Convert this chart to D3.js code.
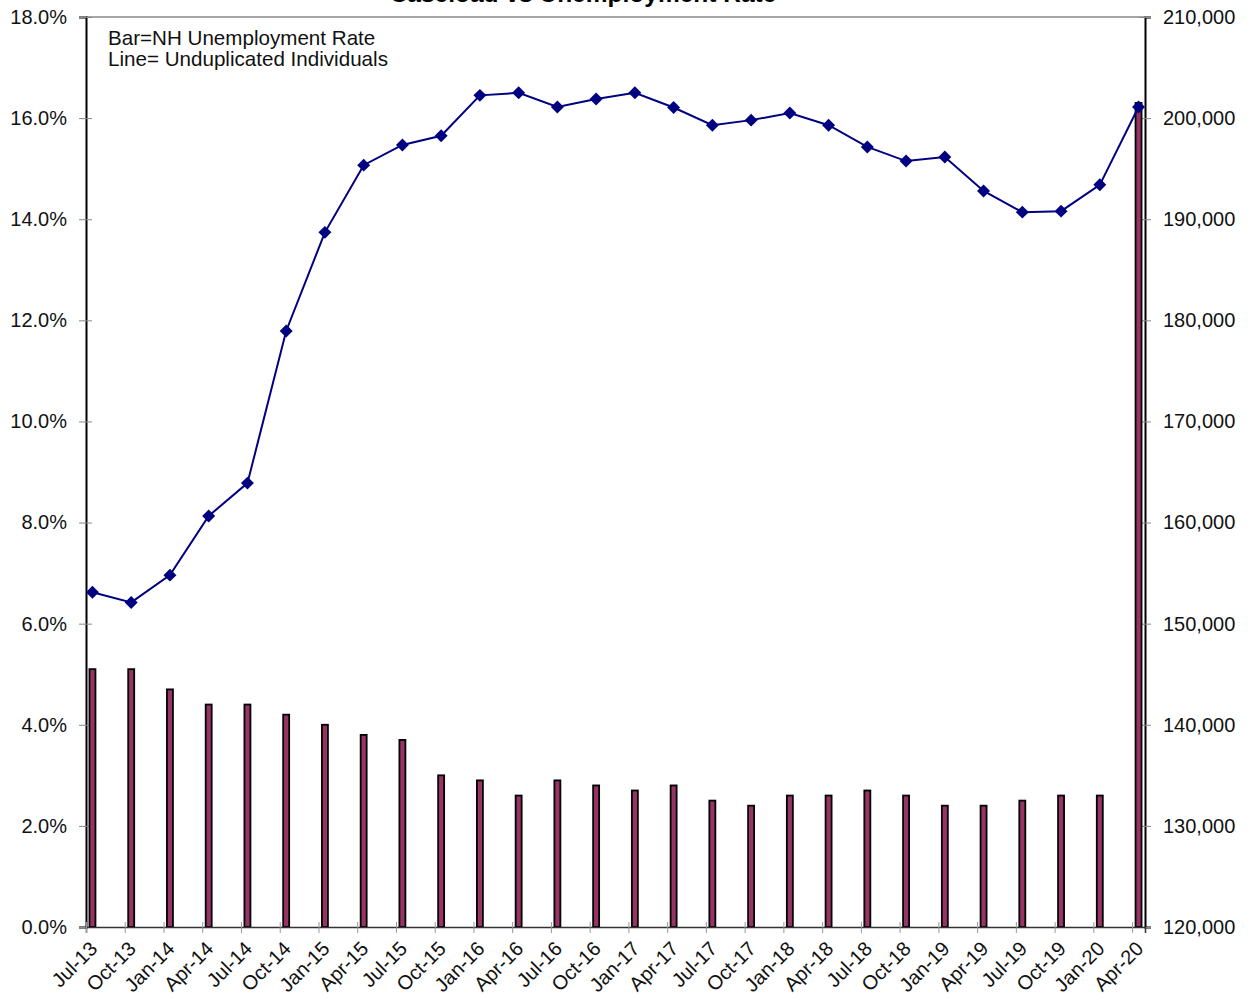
<!DOCTYPE html>
<html><head><meta charset="utf-8">
<script src="https://cdn.jsdelivr.net/npm/d3@7"></script>
<style>body{margin:0;background:#fff;} svg{display:block;font-family:"Liberation Sans",Arial,sans-serif;}</style>
</head><body>
<script>
const categories = ["Jul-13","Oct-13","Jan-14","Apr-14","Jul-14","Oct-14","Jan-15","Apr-15","Jul-15","Oct-15","Jan-16","Apr-16","Jul-16","Oct-16","Jan-17","Apr-17","Jul-17","Oct-17","Jan-18","Apr-18","Jul-18","Oct-18","Jan-19","Apr-19","Jul-19","Oct-19","Jan-20","Apr-20"];
const unemploymentRate = [5.1,5.1,4.7,4.4,4.4,4.2,4.0,3.8,3.7,3.0,2.9,2.6,2.9,2.8,2.7,2.8,2.5,2.4,2.6,2.6,2.7,2.6,2.4,2.4,2.5,2.6,2.6,16.3];
const individuals = [153100,152100,154800,160650,163900,178950,188700,195350,197350,198250,202250,202500,201100,201900,202500,201050,199300,199800,200500,199300,197150,195750,196150,192800,190700,190800,193400,201100];
const leftTicks = [0,2,4,6,8,10,12,14,16,18];
const rightTicks = [120000,130000,140000,150000,160000,170000,180000,190000,200000,210000];
const titleText = "Caseload vs Unemployment Rate";
const noteLines = ["Bar=NH Unemployment Rate","Line= Unduplicated Individuals"];

const W=1250,H=1001;
const L=86,R=1145,T=17,B=927;
const FS=20;
const svg=d3.select("body").append("svg").attr("width",W).attr("height",H);

// monthly date axis: each category is the first month of its quarter
const nMonths = (categories.length-1)*3+1;
const x=d3.scaleLinear().domain([0,nMonths]).range([L,R]);
const yL=d3.scaleLinear().domain([0,18]).range([B,T]);
const yR=d3.scaleLinear().domain([120000,210000]).range([B,T]);
const cx=i=>x(i*3+0.5);

svg.append("text").attr("x",583).attr("y",2).attr("text-anchor","middle")
  .attr("font-weight","bold").attr("font-size",24.5).text(titleText);

// top border
svg.append("line").attr("x1",L).attr("x2",R).attr("y1",T).attr("y2",T).attr("stroke","#888").attr("stroke-width",1.5);

// left axis
const gl=svg.append("g").attr("transform",`translate(${L},0)`)
  .call(d3.axisLeft(yL).tickValues(leftTicks).tickFormat(d=>d.toFixed(1)+"%").tickSize(7).tickPadding(12));
gl.select(".domain").attr("stroke","#000").attr("stroke-width",2);
gl.selectAll(".tick line").attr("stroke","#888").attr("x2",-7).attr("x1",6);
gl.selectAll(".tick text").attr("font-size",FS).attr("fill","#111").attr("font-family","Liberation Sans, Arial");

// right axis
const gr=svg.append("g").attr("transform",`translate(${R},0)`)
  .call(d3.axisRight(yR).tickValues(rightTicks).tickFormat(d3.format(",")).tickSize(6).tickPadding(12));
gr.select(".domain").attr("stroke","#000").attr("stroke-width",2);
gr.selectAll(".tick line").attr("stroke","#888").attr("x1",-6).attr("x2",6);
gr.selectAll(".tick text").attr("font-size",FS).attr("fill","#111").attr("font-family","Liberation Sans, Arial");

// bars
svg.append("g").selectAll("rect").data(unemploymentRate).join("rect")
  .attr("x",(d,i)=>cx(i)-3).attr("width",6)
  .attr("y",d=>yL(d)).attr("height",d=>B-yL(d))
  .attr("fill","#993366").attr("stroke","#000").attr("stroke-width",1.8);

// bottom axis
const gb=svg.append("g").attr("transform",`translate(0,${B})`)
  .call(d3.axisBottom(x).tickValues(categories.map((c,i)=>i*3)).tickFormat((d)=>categories[d/3]).tickSize(6));
gb.select(".domain").attr("stroke","#333").attr("stroke-width",1.5);
gb.selectAll(".tick line").attr("stroke","#999").attr("y1",-5).attr("y2",6);
gb.selectAll(".tick text").attr("font-size",FS).attr("fill","#111").attr("font-family","Liberation Sans, Arial")
  .attr("text-anchor","end").attr("dy",0).attr("y",0)
  .attr("transform","translate(12,23) rotate(-45)");

// line
const line=d3.line().x((d,i)=>cx(i)).y(d=>yR(d));
svg.append("path").datum(individuals).attr("d",line).attr("fill","none").attr("stroke","#000080").attr("stroke-width",2);
svg.append("g").selectAll("path").data(individuals).join("path")
  .attr("d",d3.symbol(d3.symbolSquare,84)())
  .attr("transform",(d,i)=>`translate(${cx(i)},${yR(d)}) rotate(45)`)
  .attr("fill","#000080");

// note
svg.append("g").selectAll("text").data(noteLines).join("text")
  .attr("x",108).attr("y",(d,i)=>45+i*21).attr("font-size",20.6).attr("fill","#111").text(d=>d);
</script>
</body></html>
